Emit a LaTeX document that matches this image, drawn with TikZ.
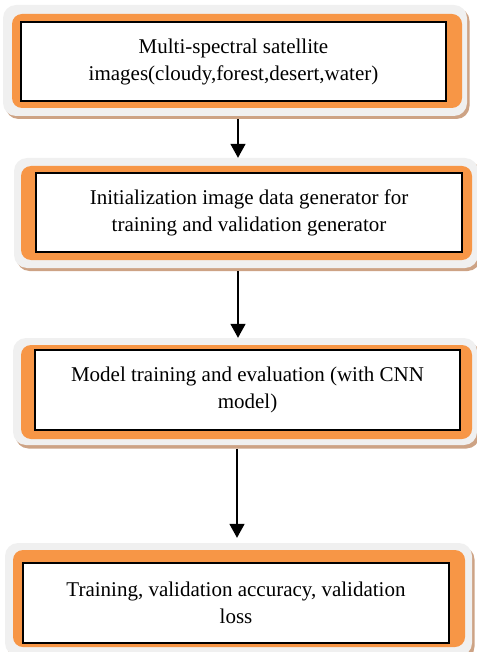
\documentclass[tikz,border=0pt]{standalone}
\usepackage{fontspec}
\setmainfont{Liberation Serif}
\usetikzlibrary{arrows.meta}
\definecolor{greyc}{HTML}{F0F0F0}
\definecolor{orangec}{HTML}{F79646}
\definecolor{shadowc}{HTML}{CDA385}
\tikzset{
  shadowbox/.style={fill=shadowc, rounded corners=13pt, inner sep=0pt, draw=none},
  greybox/.style={fill=greyc, rounded corners=13pt, inner sep=0pt, draw=none},
  orangebox/.style={fill=orangec, rounded corners=10pt, inner sep=0pt, draw=none},
  textbox/.style={fill=white, draw=black, line width=1.4pt, inner sep=0pt, align=center,
    font=\fontsize{21}{27}\selectfont},
  arr/.style={line width=1.6pt, -{Triangle[length=14pt,width=15pt]}}
}
\begin{document}
\begin{tikzpicture}[x=1pt,y=-1pt]
\useasboundingbox (0,0) rectangle (476,652);
% Box 1
\node[shadowbox, minimum width=464pt, minimum height=111pt] (s1) at (237.5,63.5) {};
\node[greybox, minimum width=464pt, minimum height=111pt] (g1) at (235,60.5) {};
\node[orangebox, minimum width=450pt, minimum height=94pt] (o1) at (237,61) {};
\node[textbox, minimum width=425pt, minimum height=79pt] (n1) at (233.5,61.5)
  {Multi-spectral satellite\\images(cloudy,forest,desert,water)};
% Box 2
\node[shadowbox, minimum width=464pt, minimum height=110pt] (s2) at (248.5,216) {};
\node[greybox, minimum width=464pt, minimum height=110pt] (g2) at (246,213) {};
\node[orangebox, minimum width=451pt, minimum height=94pt] (o2) at (246.5,213) {};
\node[textbox, minimum width=426pt, minimum height=79pt] (n2) at (249,212.5)
  {Initialization image data generator for\\training and validation generator};
% Box 3
\node[shadowbox, minimum width=464pt, minimum height=107pt] (s3) at (247.5,395) {};
\node[greybox, minimum width=464pt, minimum height=107pt] (g3) at (245,391.5) {};
\node[orangebox, minimum width=451pt, minimum height=94pt] (o3) at (246.5,392) {};
\node[textbox, minimum width=425pt, minimum height=80pt] (n3) at (247.5,390)
  {Model training and evaluation (with CNN\\model)};
% Box 4
\node[shadowbox, minimum width=467pt, minimum height=113pt] (s4) at (241,603) {};
\node[greybox, minimum width=467pt, minimum height=113pt] (g4) at (238.5,599.5) {};
\node[orangebox, minimum width=452pt, minimum height=97pt] (o4) at (239,598.5) {};
\node[textbox, minimum width=426pt, minimum height=80pt] (n4) at (236,603)
  {Training, validation accuracy, validation\\loss};
% Connectors
\coordinate (c1) at (238,0);
\coordinate (c3) at (237,0);
\draw[arr] (s1.south -| c1) -- (g2.north -| c1);
\draw[arr] (s2.south -| c1) -- (g3.north -| c1);
\draw[arr] (s3.south -| c3) -- ([yshift=5pt]g4.north -| c3);
\end{tikzpicture}
\end{document}
